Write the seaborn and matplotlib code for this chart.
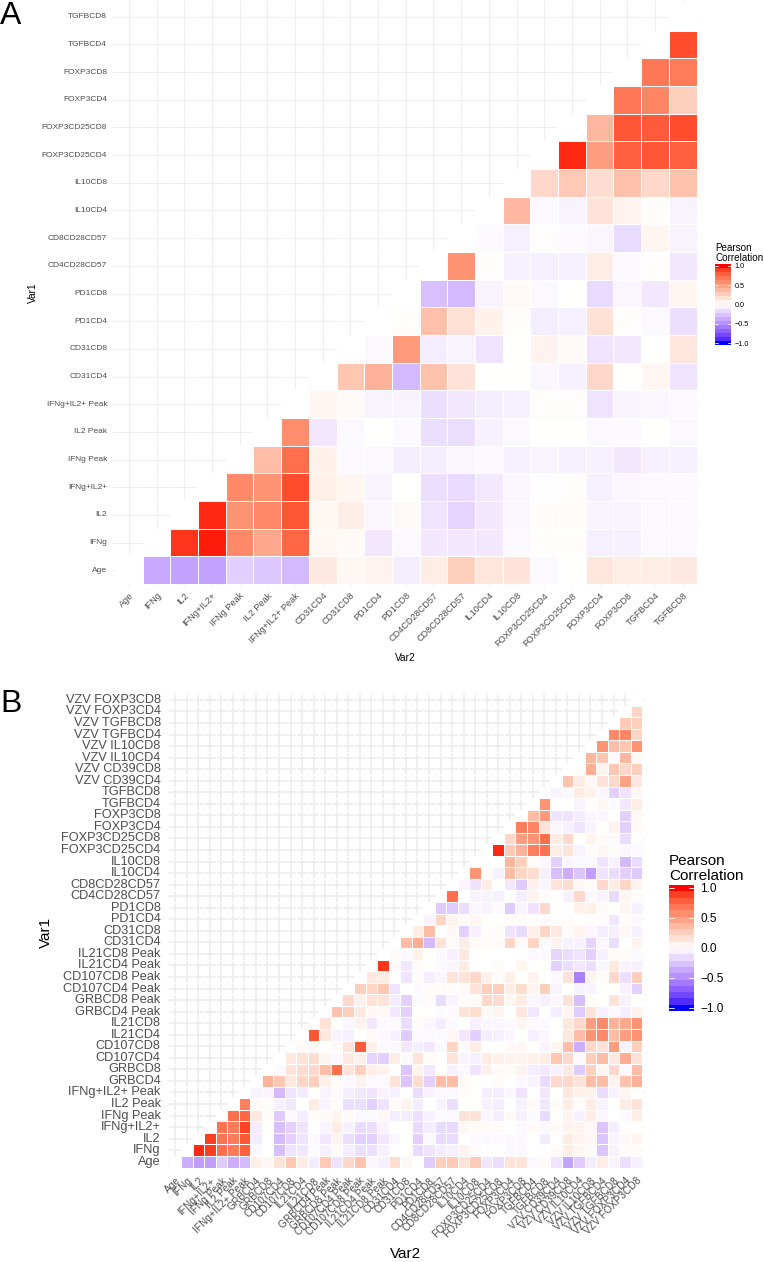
import numpy as np
import pandas as pd
import seaborn as sns
import matplotlib.pyplot as plt
from matplotlib.cm import ScalarMappable
from matplotlib.colors import LinearSegmentedColormap, ListedColormap, Normalize

# panel A labels, bottom row / first column first
a_labels = ['Age', 'IFNg', 'IL2', 'IFNg+IL2+', 'IFNg Peak', 'IL2 Peak', 'IFNg+IL2+ Peak',
            'CD31CD4', 'CD31CD8', 'PD1CD4', 'PD1CD8', 'CD4CD28CD57', 'CD8CD28CD57',
            'IL10CD4', 'IL10CD8', 'FOXP3CD25CD4', 'FOXP3CD25CD8', 'FOXP3CD4', 'FOXP3CD8',
            'TGFBCD4', 'TGFBCD8']

# panel A values, one list per row, cells right of the diagonal
a_age = [-.37, -.4, -.4, -.2, -.24, -.3, .12, .04, .06, -.08, .1, .25, .13, .15, -.03, 0, .13, .1, .1, .12]
a_ifng = [.92, .97, .6, .45, .75, .04, .03, -.1, -.03, -.1, -.1, -.1, -.03, .01, .01, -.07, -.06, -.03, -.03]
a_il2 = [.95, .55, .6, .82, .04, .09, -.04, .03, -.12, -.18, -.1, -.04, .02, .02, -.05, -.05, -.03, -.03]
a_both = [.6, .55, .85, .08, .05, -.05, 0, -.14, -.16, -.09, -.04, -.01, .01, -.06, -.04, -.03, -.02]
a_ifng_pk = [.35, .72, .07, -.03, -.03, -.08, -.08, -.04, -.03, -.06, -.05, -.07, -.06, -.1, -.07, -.06]
a_il2_pk = [.58, -.1, -.03, 0, -.02, -.14, -.14, -.06, -.03, 0, 0, -.03, -.02, 0, -.03]
a_both_pk = [.05, .03, -.05, -.05, -.14, -.1, -.08, -.07, .01, .01, -.12, -.05, -.04, -.02]
a_cd31cd4 = [.3, .4, -.3, .32, .15, 0, 0, -.04, -.06, .2, 0, .05, -.12]
a_cd31cd8 = [-.03, .52, -.08, -.05, -.12, 0, .06, .03, -.12, -.1, 0, .13]
a_pd1cd4 = [.01, .33, .16, .07, .01, -.08, -.07, .16, .01, -.03, -.14]
a_pd1cd8 = [-.27, -.3, -.05, .03, -.03, 0, -.16, -.04, -.1, .05]
a_cd4cd28 = [.55, .01, -.06, -.07, -.06, .1, -.03, .01, -.1]
a_cd8cd28 = [-.02, -.07, .01, -.02, -.04, -.16, .05, -.05]
a_il10cd4 = [.37, -.03, -.05, .15, .06, .01, -.05]
a_il10cd8 = [.2, .28, .18, .33, .2, .32]
a_cd25cd4 = [.95, .5, .78, .82, .78]
a_cd25cd8 = [.38, .82, .8, .85]
a_foxcd4 = [.68, .62, .25]
a_foxcd8 = [.68, .66]
a_tgfcd4 = [.85]

# panel B labels
b_labels = ['Age', 'IFNg', 'IL2', 'IFNg+IL2+', 'IFNg Peak', 'IL2 Peak', 'IFNg+IL2+ Peak',
            'GRBCD4', 'GRBCD8', 'CD107CD4', 'CD107CD8', 'IL21CD4', 'IL21CD8',
            'GRBCD4 Peak', 'GRBCD8 Peak', 'CD107CD4 Peak', 'CD107CD8 Peak',
            'IL21CD4 Peak', 'IL21CD8 Peak', 'CD31CD4', 'CD31CD8', 'PD1CD4', 'PD1CD8',
            'CD4CD28CD57', 'CD8CD28CD57', 'IL10CD4', 'IL10CD8', 'FOXP3CD25CD4',
            'FOXP3CD25CD8', 'FOXP3CD4', 'FOXP3CD8', 'TGFBCD4', 'TGFBCD8',
            'VZV CD39CD4', 'VZV CD39CD8', 'VZV IL10CD4', 'VZV IL10CD8',
            'VZV TGFBCD4', 'VZV TGFBCD8', 'VZV FOXP3CD4', 'VZV FOXP3CD8']

# panel B values
b_age = [-.35, -.42, -.42, -.22, -.35, -.3, .08, .04, .15, .3, .1, -.08, .28, -.12, .2, .32, -.04, -.06, .18, .04,
         0, -.22, .25, .28, .15, .27, -.1, -.14, .15, .15, -.03, .03, -.12, -.4, -.22, -.08, .1, -.05, -.14, -.06]
b_ifng = [.95, .9, .72, .66, .78, -.03, 0, -.28, -.12, -.1, -.02, -.06, .02, -.08, -.14, -.14, -.06, 0, 0,
          -.16, -.12, -.08, -.06, .06, .03, 0, 0, -.03, -.03, 0, 0, .03, .1, .05, .03, -.25, -.06, .02, .02]
b_il2 = [.9, .7, .66, .82, -.08, 0, -.3, -.2, -.12, -.02, -.1, .06, -.14, -.2, -.2, -.1, -.04, 0,
         -.2, -.03, -.16, -.16, 0, -.02, -.03, -.03, -.03, -.03, 0, -.08, 0, .1, .06, .04, -.25, -.05, .04, .06]
b_both = [.7, .66, .88, -.08, 0, -.28, -.2, -.12, 0, -.05, .1, -.06, -.16, -.14, -.05, 0, 0,
          -.16, -.08, -.16, -.16, .04, .02, .02, .02, 0, -.03, .03, -.03, .03, .06, .06, .03, -.25, -.08, 0, 0]
b_ifng_pk = [.72, .75, .12, .02, -.22, -.02, -.08, .02, .03, .06, .03, -.03, -.03, .04, -.08, -.08,
             -.14, -.06, -.02, -.02, .15, .15, -.04, -.08, .03, -.06, -.02, -.16, 0, .06, -.06, .1, -.04, 0, -.02, .1]
b_il2_pk = [.65, .03, .02, -.06, -.1, 0, .1, -.05, .02, -.14, -.14, -.2, -.12, .03, .06,
            -.08, 0, -.05, -.14, 0, 0, -.06, -.08, 0, -.06, .03, -.1, .02, .1, .02, .1, -.05, 0, .1, .15]
b_both_pk = [-.05, -.04, -.3, -.12, -.08, 0, -.05, .03, -.08, -.1, -.12, -.05, -.06, 0,
             -.15, -.05, -.03, -.03, .02, 0, -.08, -.08, -.04, -.12, 0, -.1, 0, .12, .08, .06, -.15, -.06, .05, 0]
b_grbcd4 = [.4, .3, .12, .22, .26, .08, .02, -.03, .06, -.02, -.02, .15, -.25,
            .18, -.2, .35, .35, .03, 0, 0, .02, 0, -.03, -.05, -.16, .2, .2, .15, .35, .35, .06, .32, .4]
b_grbcd8 = [-.02, .15, .18, .2, .35, .72, .15, .25, .1, .06, 0, -.25,
            .06, -.1, 0, -.06, -.03, -.12, .08, .03, .02, .06, -.08, -.1, -.06, .12, -.22, .25, .05, .2, -.03, .35]
b_cd107cd4 = [.12, .15, .18, .05, -.03, .12, .08, -.18, -.2, .1, -.02,
              .15, .02, 0, .15, -.05, -.06, .1, .08, .06, .06, .08, .1, .3, .2, -.03, .25, .35, .12, .42, .15]
b_cd107cd8 = [.03, .04, 0, .03, .15, .8, .08, -.03, -.03, -.1,
              -.07, -.1, -.03, .22, -.03, .1, 0, 0, .03, .04, 0, -.05, .05, .35, -.35, .2, .15, .5, -.05, .25]
b_il21cd4 = [.82, .12, -.05, -.07, 0, .03, -.03, -.06, -.22,
             -.03, -.03, -.02, .04, -.1, -.2, -.08, -.06, -.04, 0, -.07, -.04, 0, .12, .35, .55, .6, .35, .5, .55]
b_il21cd8 = [.15, 0, -.04, .06, -.1, -.02, -.02, -.15,
             .02, -.04, -.08, -.02, 0, -.06, -.04, -.04, -.02, .04, -.02, -.02, 0, .12, .2, .5, .6, .4, .45, .55]
b_grbcd4_pk = [.32, .25, .12, .04, .04, -.1, -.2,
               0, 0, -.02, -.02, .15, .18, .03, .06, 0, .14, -.1, 0, -.08, .05, -.22, .15, -.06, -.03, -.08, .06]
b_grbcd8_pk = [.2, .08, .15, .15, -.08, -.2,
               -.02, .02, -.15, -.05, .02, .02, .2, .18, .05, .1, -.04, -.06, -.04, .15, -.28, .02, 0, .15, -.06, 0]
b_cd107cd4_pk = [.25, .22, .3, -.12, 0,
                 -.02, .02, .02, .02, .03, .15, .25, .25, .1, .18, .05, .25, -.05, 0, -.05, -.05, 0, 0, -.06, -.2]
b_cd107cd8_pk = [.12, .1, 0, -.12,
                 .02, -.08, -.04, .15, .15, .2, .08, .02, .08, 0, .06, 0, -.03, .15, -.55, .06, .02, .2, -.14, .25]
b_il21cd4_pk = [.92, -.02, -.1,
                .03, 0, -.03, -.04, .1, 0, 0, .02, 0, .05, 0, 0, -.2, -.14, -.1, -.14, -.04, .12, -.05, -.06]
b_il21cd8_pk = [.02, -.02,
                .08, 0, -.03, -.06, .12, 0, 0, 0, 0, 0, -.03, -.03, -.18, -.15, -.12, -.2, -.06, .02, .02, -.03]
b_cd31cd4 = [.35, .42, -.3, .15, .03, .1, .03, .03, .03, .22, .03, .22, -.02, .06, -.06, -.06, -.18, -.04, -.14, 0, .06]
b_cd31cd8 = [.1, .35, 0, .04, -.2, -.06, .02, .02, -.12, -.16, .08, .22, .12, .02, .06, -.04, -.08, -.06, .04, -.06]
b_pd1cd4 = [-.05, .22, .06, .02, .05, 0, 0, .01, .02, .01, -.02, .01, .01, 0, .01, .01, -.1, .01, -.03]
b_pd1cd8 = [-.22, -.22, -.14, -.04, -.05, -.02, -.22, -.05, -.12, .2, 0, 0, .08, .08, .03, 0, .05, -.06]
b_cd4cd28 = [.72, 0, -.05, -.05, -.06, 0, -.08, .06, .02, 0, -.06, .2, -.03, -.05, -.16, .05, .02]
b_cd8cd28 = [-.04, -.12, .1, 0, -.1, -.22, .06, -.04, .15, .18, .04, .02, .2, .1, .22, .06]
b_il10cd4 = [.55, .02, -.06, .35, .22, .18, -.07, -.28, -.35, -.25, -.42, -.12, -.15, -.2, -.22]
b_il10cd8 = [0, 0, .38, .25, .02, -.04, -.2, -.04, -.03, -.03, -.12, -.06, -.3, -.15]
b_cd25cd4 = [.95, .28, .4, .65, .7, .1, .15, -.05, .02, .04, .02, -.04, -.03]
b_cd25cd8 = [.2, .5, .55, .72, .1, .2, 0, .06, .03, .03, -.15, 0]
b_foxcd4 = [.65, .62, .15, -.04, -.06, -.12, -.05, 0, .06, -.2, .03]
b_foxcd8 = [.35, .52, -.12, -.12, -.08, -.04, -.04, 0, -.2, .04]
b_tgfcd4 = [.55, 0, 0, -.05, .01, .04, -.02, -.1, .1]
b_tgfcd8 = [-.05, -.03, .1, .08, -.04, -.2, -.12, .04]
b_vzv_cd39cd4 = [.32, .1, .04, .15, .2, .48, .12]
b_vzv_cd39cd8 = [.01, .42, .06, .3, .2, .25]
b_vzv_il10cd4 = [.38, .3, -.02, .38, .04]
b_vzv_il10cd8 = [.55, .35, .3, .55]
b_vzv_tgfcd4 = [.6, .62, .22]
b_vzv_tgfcd8 = [.28, .25]
b_vzv_foxcd4 = [.22]

a_rows = [a_age, a_ifng, a_il2, a_both, a_ifng_pk, a_il2_pk, a_both_pk, a_cd31cd4, a_cd31cd8,
          a_pd1cd4, a_pd1cd8, a_cd4cd28, a_cd8cd28, a_il10cd4, a_il10cd8, a_cd25cd4, a_cd25cd8,
          a_foxcd4, a_foxcd8, a_tgfcd4]
b_rows = [b_age, b_ifng, b_il2, b_both, b_ifng_pk, b_il2_pk, b_both_pk, b_grbcd4, b_grbcd8,
          b_cd107cd4, b_cd107cd8, b_il21cd4, b_il21cd8, b_grbcd4_pk, b_grbcd8_pk, b_cd107cd4_pk,
          b_cd107cd8_pk, b_il21cd4_pk, b_il21cd8_pk, b_cd31cd4, b_cd31cd8, b_pd1cd4, b_pd1cd8,
          b_cd4cd28, b_cd8cd28, b_il10cd4, b_il10cd8, b_cd25cd4, b_cd25cd8, b_foxcd4, b_foxcd8,
          b_tgfcd4, b_tgfcd8, b_vzv_cd39cd4, b_vzv_cd39cd8, b_vzv_il10cd4, b_vzv_il10cd8,
          b_vzv_tgfcd4, b_vzv_tgfcd8, b_vzv_foxcd4]


def lab2rgb(L, a, b):
    # ggplot blends blue-white-red in Lab, so the blue side goes purple
    fy = (L + 16) / 116
    xyz = np.array([fy + a / 500, fy, fy - b / 200])
    xyz = np.where(xyz > 6 / 29, xyz ** 3, 3 * (6 / 29) ** 2 * (xyz - 4 / 29)) * [0.95047, 1, 1.08883]
    m = [[3.2406, -1.5372, -0.4986], [-0.9689, 1.8758, 0.0415], [0.0557, -0.204, 1.057]]
    rgb = np.clip(np.dot(m, xyz), 0, 1)
    return np.where(rgb > 0.0031308, 1.055 * rgb ** (1 / 2.4) - 0.055, 12.92 * rgb).clip(0, 1)


blue, white, red = np.array([32.3, 79.2, -107.9]), np.array([100., 0, 0]), np.array([53.2, 80.1, 67.2])
steps = [blue + (white - blue) * t for t in np.linspace(0, 1, 40, endpoint=False)]
steps += [white + (red - white) * t for t in np.linspace(0, 1, 41)]
corr_cmap = LinearSegmentedColormap.from_list('corr', [lab2rgb(*s) for s in steps], N=512)


def frame(rows, labels):
    mat = np.full((len(labels), len(labels)), np.nan)
    for i, vals in enumerate(rows):
        mat[i, i + 1:] = vals
    return pd.DataFrame(mat, index=labels, columns=labels)


def px_axes(left, top, right, bottom):
    return fig.add_axes([left / W, 1 - bottom / H, (right - left) / W, (bottom - top) / H])


def draw_panel(ax, df, ysize, xsize, tick_pad, xpad, grid_color, grid_lw, cell_lw):
    n = len(df)
    # white tiles on the diagonal cut the grid off next to the coloured cells
    diag = np.where(np.eye(n) == 1, 0., np.nan)
    sns.heatmap(pd.DataFrame(diag, index=df.index, columns=df.columns), ax=ax, cmap=ListedColormap(['white']),
                cbar=False, linewidths=cell_lw, linecolor='white')
    sns.heatmap(df, ax=ax, cmap=corr_cmap, vmin=-1, vmax=1, cbar=False,
                linewidths=cell_lw, linecolor='white', xticklabels=True, yticklabels=True)
    ax.set_xlim(-0.1, n + 0.1)
    ax.set_ylim(-0.1, n + 0.1)
    ax.grid(True, color=grid_color, lw=grid_lw)
    ax.set_axisbelow(True)
    ax.set_xlabel('')
    ax.set_ylabel('')
    ax.set_xticklabels(df.columns, rotation=45, ha='right', rotation_mode='anchor',
                       fontsize=xsize, color='#4D4D4D')
    ax.set_yticklabels(df.index, rotation=0, fontsize=ysize, color='#4D4D4D')
    ax.tick_params(axis='x', length=0, pad=xpad)
    ax.tick_params(axis='y', length=0, pad=tick_pad)
    for s in ax.spines.values():
        s.set_visible(False)


def draw_legend(left, top, right, bottom, title_x, title_y, title_size, tick_size, pad):
    cax = px_axes(left, top, right, bottom)
    sm = ScalarMappable(Normalize(-1.05, 1.05), corr_cmap.resampled(20))
    cb = fig.colorbar(sm, cax=cax, ticks=[-1, -0.5, 0, 0.5, 1])
    cb.outline.set_visible(False)
    cb.ax.set_yticklabels(['\u22121.0', '\u22120.5', '0.0', '0.5', '1.0'], fontsize=tick_size, color='black')
    cb.ax.tick_params(length=0, pad=pad)
    for t in [-1, -0.5, 0, 0.5, 1]:
        cb.ax.plot([0, 0.2], [t, t], color='white', lw=0.6, transform=cb.ax.get_yaxis_transform())
        cb.ax.plot([0.8, 1], [t, t], color='white', lw=0.6, transform=cb.ax.get_yaxis_transform())
    fig.text(title_x / W, 1 - title_y / H, 'Pearson\nCorrelation', fontsize=title_size, va='bottom', ha='left',
             linespacing=1.05, color='black')


W, H = 764, 1262
sns.set_theme(style='white')
plt.rcParams['font.family'] = ['Liberation Sans', 'DejaVu Sans']

fig = plt.figure(figsize=(W / 100, H / 100), dpi=100)

ax_a = px_axes(112.2, 0.2, 699.3, 586.8)
draw_panel(ax_a, frame(a_rows, a_labels), 6, 6.6, 3.6, 3, '#EFEFEF', 0.8, 0.6)
ax_b = px_axes(168.3, 693, 643.5, 1168.7)
draw_panel(ax_b, frame(b_rows, b_labels), 9.2, 7.3, 5.5, 5, '#EBEBEB', 1.1, 0.6)

draw_legend(715, 264, 731, 345, 715, 263, 7.1, 5.2, 2.5)
draw_legend(669, 885, 693.5, 1011, 669, 883, 11, 8.5, 5)

# axis titles and panel letters
fig.text(405.5 / W, 1 - 658 / H, 'Var2', fontsize=7.3, ha='center', va='center', color='black')
fig.text(33 / W, 1 - 293 / H, 'Var1', fontsize=7.3, ha='center', va='center', rotation=90, color='black')
fig.text(406 / W, 1 - 1254 / H, 'Var2', fontsize=11, ha='center', va='center', color='black')
fig.text(46 / W, 1 - 932 / H, 'Var1', fontsize=11, ha='center', va='center', rotation=90, color='black')
fig.text(0 / W, 1 - 24 / H, 'A', fontsize=23, ha='left', va='baseline', color='black')
fig.text(0 / W, 1 - 712 / H, 'B', fontsize=23, ha='left', va='baseline', color='black')

fig.savefig('out.png', dpi=100)
